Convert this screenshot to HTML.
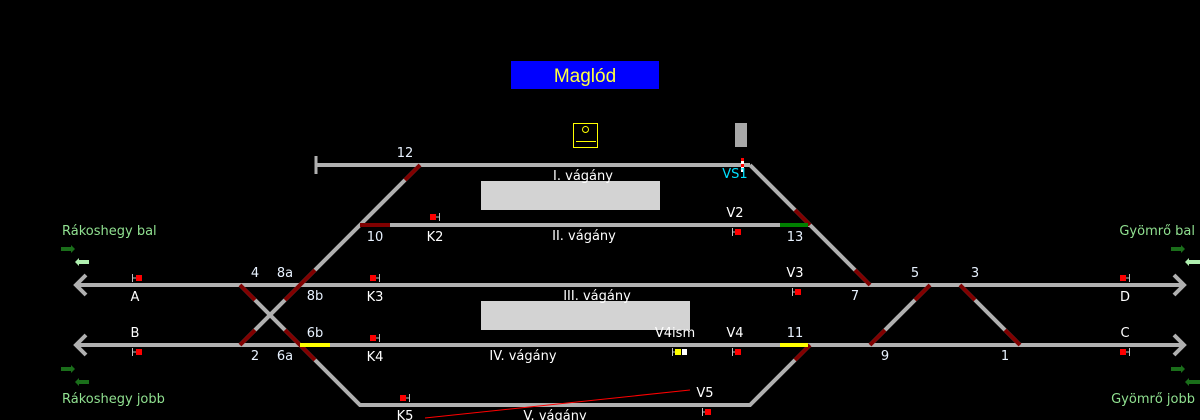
<!DOCTYPE html>
<html><head><meta charset="utf-8"><style>
html,body{margin:0;padding:0;background:#000;width:1200px;height:420px;overflow:hidden}
svg text{font-family:"DejaVu Sans","Liberation Sans",sans-serif;font-size:13px;fill:#fff}
.n{fill:#e8f2ff}
.g{fill:#90e090}
</style></head><body>
<svg width="1200" height="420" viewBox="0 0 1200 420" xmlns="http://www.w3.org/2000/svg">
<rect x="511" y="61" width="148" height="28" fill="#0000ff"/>
<text x="585" y="82" text-anchor="middle" style="font-family:'Liberation Sans',sans-serif;font-size:19px;fill:#ffff40">Maglód</text>
<rect x="573.5" y="123.5" width="24" height="24" fill="none" stroke="#ffff00" stroke-width="1"/>
<circle cx="585.5" cy="129.5" r="3" fill="none" stroke="#ffff00"/>
<line x1="576" y1="141.5" x2="596" y2="141.5" stroke="#ffff00"/>
<rect x="735" y="123" width="12" height="24" fill="#a8a8a8"/>
<rect x="481" y="181" width="179" height="29" fill="#d3d3d3"/>
<rect x="481" y="301" width="209" height="29" fill="#d3d3d3"/>
<g stroke="#b0b0b0" stroke-width="4" fill="none">
<line x1="316" y1="165" x2="750" y2="165"/>
<polyline points="750,165 870,285"/>
<line x1="360" y1="225" x2="810" y2="225"/>
<line x1="77" y1="285" x2="1183" y2="285"/>
<line x1="77" y1="345" x2="1183" y2="345"/>
<polyline points="420,165 240,345"/>
<polyline points="240,285 360,405 750,405 810,345"/>
<line x1="930" y1="285" x2="870" y2="345"/>
<line x1="960" y1="285" x2="1020" y2="345"/>
<polyline points="86,275 76,285 86,295"/>
<polyline points="86,335 76,345 86,355"/>
<polyline points="1174,275 1184,285 1174,295"/>
<polyline points="1174,335 1184,345 1174,355"/>
</g>
<line x1="316" y1="156" x2="316" y2="174" stroke="#b0b0b0" stroke-width="3"/>
<g stroke="#800000" stroke-width="4">
<line x1="405" y1="180" x2="420" y2="165"/>
<line x1="360" y1="225" x2="390" y2="225"/>
<line x1="285" y1="300" x2="315" y2="270"/>
<line x1="240" y1="285" x2="255" y2="300"/>
<line x1="240" y1="345" x2="255" y2="330"/>
<line x1="285" y1="330" x2="315" y2="360"/>
<line x1="795" y1="210" x2="810" y2="225"/>
<line x1="855" y1="270" x2="870" y2="285"/>
<line x1="795" y1="360" x2="810" y2="345"/>
<line x1="915" y1="300" x2="930" y2="285"/>
<line x1="870" y1="345" x2="885" y2="330"/>
<line x1="960" y1="285" x2="975" y2="300"/>
<line x1="1005" y1="330" x2="1020" y2="345"/>
</g>
<line x1="300" y1="345" x2="330" y2="345" stroke="#ffff00" stroke-width="4"/>
<line x1="780" y1="345" x2="808" y2="345" stroke="#ffff00" stroke-width="4"/>
<line x1="780" y1="225" x2="808" y2="225" stroke="#008000" stroke-width="4"/>
<rect x="741" y="158" width="3" height="14" fill="#fff"/>
<rect x="741" y="158" width="3" height="3" fill="#f00"/><rect x="741" y="164" width="3" height="3" fill="#f00"/>
<line x1="425" y1="418" x2="690" y2="390" stroke="#ff0000" stroke-width="1"/>
<g fill="#ff0000">
<rect x="136" y="275" width="6" height="6"/><rect x="136" y="349" width="6" height="6"/>
<rect x="370" y="275" width="6" height="6"/><rect x="370" y="335" width="6" height="6"/>
<rect x="430" y="214" width="6" height="6"/><rect x="400" y="395" width="6" height="6"/>
<rect x="735" y="229" width="6" height="6"/><rect x="795" y="289" width="6" height="6"/>
<rect x="735" y="349" width="6" height="6"/><rect x="705" y="409" width="6" height="6"/>
<rect x="1120" y="275" width="6" height="6"/><rect x="1120" y="349" width="6" height="6"/>
</g>
<rect x="675" y="349" width="6" height="6" fill="#ffff00"/><rect x="682" y="349" width="5" height="6" fill="#fff"/>
<g stroke="#c0c0c0" stroke-width="1">
<path d="M132.5 274v8M132 278h4"/><path d="M132.5 348v8M132 352h4"/>
<path d="M379.5 274v8M376 278h4"/><path d="M379.5 334v8M376 338h4"/>
<path d="M439.5 213v8M436 217h4"/><path d="M409.5 394v8M406 398h4"/>
<path d="M732.5 228v8M732 232h3"/><path d="M792.5 288v8M792 292h3"/>
<path d="M732.5 348v8M732 352h3"/><path d="M672.5 348v8M672 352h3"/>
<path d="M702.5 408v8M702 412h3"/>
<path d="M1129.5 274v8M1126 278h4"/><path d="M1129.5 348v8M1126 352h4"/>
</g>
<g>
<polygon points="61,247 71,247 71,245 75,249 71,253 71,251 61,251" fill="#1a6e1a"/>
<polygon points="89,260 79,260 79,258 75,262 79,266 79,264 89,264" fill="#b0f0b0"/>
<polygon points="61,367 71,367 71,365 75,369 71,373 71,371 61,371" fill="#1a6e1a"/>
<polygon points="89,380 79,380 79,378 75,382 79,386 79,384 89,384" fill="#1a6e1a"/>
<polygon points="1171,247 1181,247 1181,245 1185,249 1181,253 1181,251 1171,251" fill="#1a6e1a"/>
<polygon points="1200,260 1189,260 1189,258 1185,262 1189,266 1189,264 1200,264" fill="#b0f0b0"/>
<polygon points="1171,367 1181,367 1181,365 1185,369 1181,373 1181,371 1171,371" fill="#1a6e1a"/>
<polygon points="1200,380 1189,380 1189,378 1185,382 1189,386 1189,384 1200,384" fill="#1a6e1a"/>
</g>
<text class="g" x="62" y="235">Rákoshegy bal</text>
<text class="g" x="62" y="403">Rákoshegy jobb</text>
<text class="g" x="1195" y="235" text-anchor="end">Gyömrő bal</text>
<text class="g" x="1195" y="403" text-anchor="end">Gyömrő jobb</text>
<g class="n" style="font-size:12px">
<text class="n" x="405" y="157" text-anchor="middle">12</text>
<text class="n" x="375" y="241" text-anchor="middle">10</text>
<text class="n" x="255" y="277" text-anchor="middle">4</text>
<text class="n" x="285" y="277" text-anchor="middle">8a</text>
<text class="n" x="315" y="300" text-anchor="middle">8b</text>
<text class="n" x="315" y="337" text-anchor="middle">6b</text>
<text class="n" x="255" y="360" text-anchor="middle">2</text>
<text class="n" x="285" y="360" text-anchor="middle">6a</text>
<text class="n" x="795" y="241" text-anchor="middle">13</text>
<text class="n" x="855" y="300" text-anchor="middle">7</text>
<text class="n" x="795" y="337" text-anchor="middle">11</text>
<text class="n" x="915" y="277" text-anchor="middle">5</text>
<text class="n" x="975" y="277" text-anchor="middle">3</text>
<text class="n" x="885" y="360" text-anchor="middle">9</text>
<text class="n" x="1005" y="360" text-anchor="middle">1</text>
</g>
<text x="135" y="301" text-anchor="middle">A</text>
<text x="135" y="337" text-anchor="middle">B</text>
<text x="375" y="301" text-anchor="middle">K3</text>
<text x="375" y="361" text-anchor="middle">K4</text>
<text x="435" y="241" text-anchor="middle">K2</text>
<text x="405" y="420" text-anchor="middle">K5</text>
<text x="735" y="217" text-anchor="middle">V2</text>
<text x="795" y="277" text-anchor="middle">V3</text>
<text x="735" y="337" text-anchor="middle">V4</text>
<text x="675" y="337" text-anchor="middle">V4ism</text>
<text x="705" y="397" text-anchor="middle">V5</text>
<text x="1125" y="301" text-anchor="middle">D</text>
<text x="1125" y="337" text-anchor="middle">C</text>
<text x="735" y="178" text-anchor="middle" style="fill:#00e0ff">VS1</text>
<text x="583" y="180" text-anchor="middle">I. vágány</text>
<text x="584" y="240" text-anchor="middle">II. vágány</text>
<text x="597" y="300" text-anchor="middle">III. vágány</text>
<text x="523" y="360" text-anchor="middle">IV. vágány</text>
<text x="555" y="420" text-anchor="middle">V. vágány</text>
</svg>
</body></html>
